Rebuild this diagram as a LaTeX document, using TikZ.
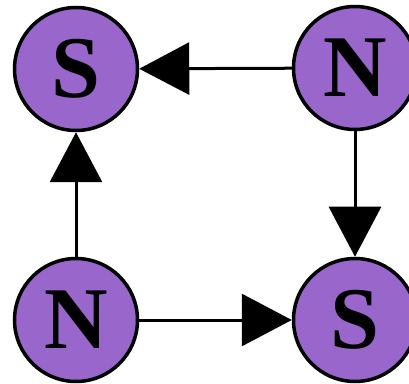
\documentclass[tikz,border=0pt]{standalone}
\usepackage{fontspec}
\setmainfont{Liberation Serif}
\usetikzlibrary{arrows.meta}
\definecolor{pole}{HTML}{9966CC}
\tikzset{
  magnet/.style={circle, draw=black, fill=pole, line width=3.5pt, minimum size=123pt, inner sep=0pt,
    font=\fontsize{88}{88}\selectfont\bfseries},
  field/.style={line width=3pt, -{Triangle[length=50pt,width=52pt]}}
}
\begin{document}
\begin{tikzpicture}[x=1pt,y=1pt]
\useasboundingbox (0,0) rectangle (409,383);
\node[magnet] (tl) at (76,314) {S};
\node[magnet] (tr) at (355,315) {N};
\node[magnet] (bl) at (76,63) {N};
\node[magnet] (br) at (355,63) {S};
\draw[field] (tr) -- (tl);
\draw[field] (tr) -- (br);
\draw[field] (bl) -- (tl);
\draw[field] (bl) -- (br);
\end{tikzpicture}
\end{document}
